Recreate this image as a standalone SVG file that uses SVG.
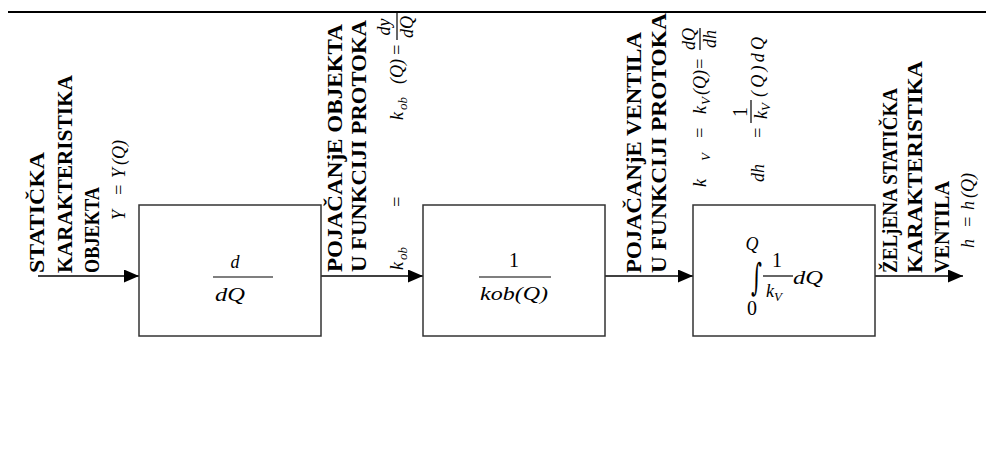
<svg xmlns="http://www.w3.org/2000/svg" width="986" height="462" viewBox="0 0 986 462">
<defs>
<style>
.lbl{font-family:"Liberation Serif","Times New Roman",serif;font-weight:bold;font-size:21px;fill:#000}
.m{font-family:"Liberation Serif","Times New Roman",serif;font-style:italic;font-size:18px;fill:#000}
.r{font-family:"Liberation Serif","Times New Roman",serif;font-size:20px;fill:#000}
.sub{font-size:13px}
.box{fill:#fff;stroke:#333;stroke-width:1.5}
.conn{stroke:#000;stroke-width:1.5;fill:none;marker-end:url(#ah)}
.bar{stroke:#000;stroke-width:1.2}
</style>
<marker id="ah" markerUnits="userSpaceOnUse" markerWidth="15" markerHeight="13" refX="15" refY="6.5" orient="auto">
<path d="M0,0 L15,6.5 L0,13 z" fill="#000"/>
</marker>
</defs>
<rect width="986" height="462" fill="#fff"/>
<g id="topline"><line x1="8" y1="12" x2="986" y2="12" stroke="#000" stroke-width="1.8"/></g>

<g id="connectors">
<path class="conn" d="M38,276 H139"/>
<path class="conn" d="M321,276 H423"/>
<path class="conn" d="M605,276 H693"/>
<path class="conn" d="M875,276 H963"/>
</g>

<g id="block1">
<rect class="box" x="139" y="205" width="182" height="131"/>
<text class="m" x="235" y="268" text-anchor="middle" font-size="20">d</text>
<line class="bar" x1="213" y1="277" x2="273" y2="277"/>
<text class="m" x="230" y="301" text-anchor="middle" font-size="20" textLength="30" lengthAdjust="spacingAndGlyphs">dQ</text>
</g>

<g id="block2">
<rect class="box" x="423" y="205" width="182" height="131"/>
<text class="r" x="514" y="267" text-anchor="middle">1</text>
<line class="bar" x1="479" y1="277" x2="551" y2="277"/>
<text class="m" x="480" y="300" font-size="19" textLength="68" lengthAdjust="spacingAndGlyphs">kob(Q)</text>
</g>

<g id="block3">
<rect class="box" x="693" y="205" width="182" height="131"/>
<text transform="translate(751,290) scale(0.95,1.7)" font-family="DejaVu Serif" font-size="22">∫</text>
<text class="m" x="752" y="250" text-anchor="middle" font-size="10">Q</text>
<text class="r" x="752" y="315" text-anchor="middle" font-size="10">0</text>
<text class="r" x="777" y="267" text-anchor="middle">1</text>
<line class="bar" x1="763" y1="276" x2="793" y2="276"/>
<text class="m" x="766" y="297" font-size="19">k<tspan class="sub" dy="4">V</tspan></text>
<text class="m" x="793" y="284" font-size="19" textLength="30" lengthAdjust="spacingAndGlyphs">dQ</text>
</g>

<g id="label-input">
<text class="lbl" transform="translate(44,273) rotate(-90)" textLength="121" lengthAdjust="spacingAndGlyphs">STATIČKA</text>
<text class="lbl" transform="translate(72,273) rotate(-90)" textLength="198" lengthAdjust="spacingAndGlyphs">KARAKTERISTIKA</text>
<text class="lbl" transform="translate(99,273) rotate(-90)" textLength="86" lengthAdjust="spacingAndGlyphs">OBJEKTA</text>
<g transform="translate(125,220) rotate(-90)" class="m" font-size="19">
<text x="0" y="0">Y</text>
<text x="24" y="0">=</text>
<text x="42" y="0">Y</text>
<text x="55" y="0">(Q)</text>
</g>
</g>

<g id="label-gain-object">
<text class="lbl" transform="translate(342,272) rotate(-90)" textLength="248" lengthAdjust="spacingAndGlyphs">POJAČANjE OBJEKTA</text>
<text class="lbl" transform="translate(366,272) rotate(-90)" textLength="252" lengthAdjust="spacingAndGlyphs">U FUNKCIJI PROTOKA</text>
<g transform="translate(403,270) rotate(-90)">
<text class="m" x="0" y="0">k</text>
<text class="m sub" x="10" y="4">ob</text>
<text class="m" x="62" y="0">=</text>
<text class="m" x="150" y="0">k</text>
<text class="m sub" x="160" y="4">ob</text>
<text class="m" x="186" y="0">(Q)</text>
<text class="m" x="214" y="0">=</text>
<text class="m" x="243" y="-13" text-anchor="middle" font-size="16">dy</text>
<line class="bar" x1="230" y1="-6" x2="257" y2="-6"/>
<text class="m" x="243" y="10" text-anchor="middle" font-size="16">dQ</text>
</g>
</g>

<g id="label-gain-valve">
<text class="lbl" transform="translate(641,273) rotate(-90)" textLength="241" lengthAdjust="spacingAndGlyphs">POJAČANjE VENTILA</text>
<text class="lbl" transform="translate(666,273) rotate(-90)" textLength="260" lengthAdjust="spacingAndGlyphs">U FUNKCIJI PROTOKA</text>
<g transform="translate(706,187) rotate(-90)">
<text class="m" x="0" y="0">k</text>
<text class="m sub" x="26" y="4">V</text>
<text class="m" x="48" y="0">=</text>
<text class="m" x="73" y="0">k</text>
<text class="m sub" x="82" y="4">V</text>
<text class="m" x="92" y="0">(Q)</text>
<text class="m" x="117" y="0">=</text>
<text class="m" x="148" y="-11" text-anchor="middle" font-size="16">dQ</text>
<line class="bar" x1="137" y1="-6" x2="159" y2="-6"/>
<text class="m" x="148" y="10" text-anchor="middle" font-size="16">dh</text>
</g>
<g transform="translate(764,185) rotate(-90)">
<text class="m" x="3" y="0" font-size="19">dh</text>
<text class="m" x="46" y="0">=</text>
<text class="r" x="73" y="-17" text-anchor="middle" font-size="16">1</text>
<line class="bar" x1="62" y1="-13" x2="85" y2="-13"/>
<text class="m" x="66" y="3" font-size="16">k<tspan class="sub" dy="3">V</tspan></text>
<text class="m" x="88" y="0" font-size="19" textLength="60" lengthAdjust="spacing">(Q)dQ</text>
</g>
</g>

<g id="label-output">
<text class="lbl" transform="translate(897,273) rotate(-90)" textLength="185" lengthAdjust="spacingAndGlyphs">ŽELjENA STATIČKA</text>
<text class="lbl" transform="translate(922,273) rotate(-90)" textLength="212" lengthAdjust="spacingAndGlyphs">KARAKTERISTIKA</text>
<text class="lbl" transform="translate(949,273) rotate(-90)" textLength="92" lengthAdjust="spacingAndGlyphs">VENTILA</text>
<g transform="translate(974,248) rotate(-90)" class="m" font-size="19">
<text x="0" y="0">h</text>
<text x="20" y="0">=</text>
<text x="38" y="0">h</text>
<text x="50" y="0">(Q)</text>
</g>
</g>
</svg>
